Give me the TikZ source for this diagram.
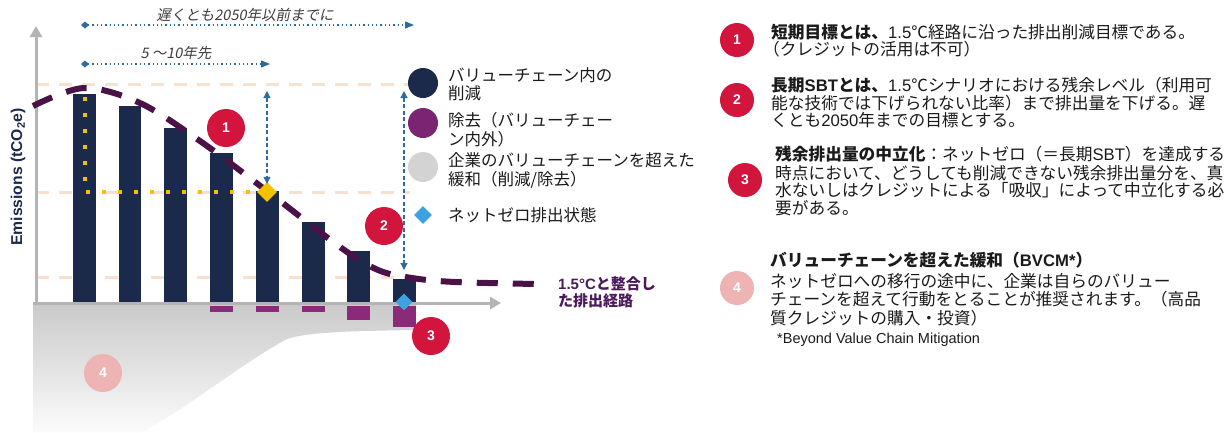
\documentclass[tikz,border=0pt]{standalone}
\usepackage{fontspec}
\setmainfont{Liberation Sans}
\newfontfamily\jp{Noto Sans CJK JP}
\newfontfamily\jpit[FakeSlant=0.2]{Noto Sans CJK JP}
\newfontfamily\latf{Liberation Sans}
\usetikzlibrary{arrows.meta,shapes.geometric}
\definecolor{navy}{HTML}{1B2A4B}
\definecolor{rempurple}{HTML}{8A2A78}
\definecolor{legpurple}{HTML}{7B2471}
\definecolor{pathpurple}{HTML}{4B1248}
\definecolor{badgered}{HTML}{D2153C}
\definecolor{badgepink}{HTML}{EEB3B3}
\definecolor{peach}{HTML}{F7E0D0}
\definecolor{arrowblue}{HTML}{2E6A9E}
\definecolor{gold}{HTML}{F5C000}
\definecolor{nzblue}{HTML}{3FA2E0}
\definecolor{axisgray}{HTML}{B4B4B4}
\definecolor{legray}{HTML}{D3D3D3}
\definecolor{txt}{HTML}{1A1A1A}
\definecolor{labelpurple}{HTML}{4B1A5A}
\begin{document}
\begin{tikzpicture}[x=1pt,y=-1pt,
  badge/.style={circle, fill=badgered, text=white, font=\bfseries\fontsize{14}{14}\selectfont, minimum size=#1, inner sep=0pt},
  badge/.default=34pt,
  pinkbadge/.style={badge=#1, fill=badgepink},
  pinkbadge/.default=34pt,
  jpline/.style={anchor=base west, inner sep=0pt, text=txt, font=\jp\fontsize{16.7}{18}\selectfont},
  legline/.style={anchor=base west, inner sep=0pt, text=txt, font=\jp\fontsize{16.5}{19}\selectfont},
  legdot/.style={circle, minimum size=30pt, inner sep=0pt, fill=#1},
  peachline/.style={peach, line width=3pt, dash pattern=on 13pt off 10pt},
  bluev/.style={arrowblue, line width=1.2pt, dash pattern=on 4pt off 2.5pt, {Triangle[length=7pt,width=7pt]}-{Triangle[length=7pt,width=7pt]}},
  blueh/.style={arrowblue, line width=1.3pt, dash pattern=on 1.3pt off 3pt, {Diamond[length=8pt,width=7pt]}-{Triangle[length=9pt,width=7pt]}},
  axisline/.style={axisgray, line width=3pt, -{Triangle[length=11pt,width=12pt]}},
  goldmark/.style={diamond, fill=gold, minimum size=20pt, inner sep=0pt},
  nzmark/.style={diamond, fill=nzblue, minimum size=17pt, inner sep=0pt},
]
\useasboundingbox (0,0) rectangle (1228,432);

% grey BVCM area
\shade[top color=gray!42, bottom color=gray!3]
  (33,303) -- (416,303) -- (416,330)
  .. controls (340,331) and (300,333) .. (285,340)
  .. controls (235,368) and (185,410) .. (142,432)
  -- (33,432) -- cycle;

% peach reference lines
\draw[peachline] (36,84) -- (410,84);
\draw[peachline] (36,192) -- (410,192);
\draw[peachline] (36,277) -- (410,277);

% bars
\foreach \l/\t in {73/94,118.5/106,164/128,210/153,256/191,302/222,347/251,393/279}
  \fill[navy] (\l,\t) rectangle ({\l+22.5},301.5);
\foreach \l/\b in {210/312,256/312,302/312,347/320,393/327}
  \fill[rempurple] (\l,305.5) rectangle ({\l+22.5},\b);

% axes
\coordinate (xstart) at (33,303);
\coordinate (xend) at (501,303);
\coordinate (ystart) at (36,304);
\coordinate (yend) at (36,26);
\draw[axisline] (ystart) -- (yend);
\draw[axisline] (xstart) -- (xend);

\node[rotate=90, text=navy, font=\bfseries\fontsize{15.7}{15.7}\selectfont] (ylabel) at (18,177) {Emissions (tCO\textsubscript{2}e)};

% yellow dotted guide
\coordinate (y1) at (85,97);
\coordinate (y2) at (85,192);
\coordinate (y3) at (257,192);
\draw[gold, line width=4pt, dash pattern=on 4pt off 12pt] (y1) -- (y2) -- (y3);

% 1.5C pathway
\draw[pathpurple, line width=6pt, dash pattern=on 21pt off 15pt]
  plot[smooth, tension=0.55] coordinates {(33,106) (84,88) (140,103) (200,141) (267,191) (340,247) (378,270) (412,278) (455,282) (537,284)};
\node[anchor=base west, inner sep=0pt, text=labelpurple, font=\jp\bfseries\fontsize{15}{15}\selectfont] (pl1) at (558,289) {{\latf 1.5°C}と整合し};
\node[anchor=base west, inner sep=0pt, text=labelpurple, font=\jp\bfseries\fontsize{15}{15}\selectfont] (pl2) at (558,306) {た排出経路};

% markers
\node[goldmark] (goal1) at (267,192) {};
\node[nzmark] (nz) at (404,302) {};

% vertical arrows
\coordinate (v1top) at (267,91);
\coordinate (v2top) at (404,91);
\coordinate (v2bot) at (404,270);
\draw[bluev] (v1top) -- ([yshift=-2pt]goal1.north);
\draw[bluev] (v2top) -- (v2bot);

% horizontal timeline arrows
\coordinate (h1s) at (81,25);
\coordinate (h1e) at (414,25);
\coordinate (h2s) at (81,64);
\coordinate (h2e) at (270,64);
\draw[blueh] (h1s) -- (h1e);
\draw[blueh] (h2s) -- (h2e);
\node[text=txt!85, font=\jpit\fontsize{14.5}{14.5}\selectfont, inner sep=0pt] (t1) at (245,15) {遅くとも2050年以前までに};
\node[text=txt!85, font=\jpit\fontsize{14.5}{14.5}\selectfont, inner sep=0pt] (t2) at (176,53) {5 〜10年先};

% chart badges
\node[badge=38pt] (b1) at (226,128) {1};
\node[badge=38pt] (b2) at (384,226) {2};
\node[badge=38pt] (b3) at (431,336) {3};
\node[pinkbadge=38pt] (b4) at (103,373) {4};

% legend
\node[legdot=navy] (l1) at (423,83) {};
\node[legdot=legpurple] (l2) at (423,123) {};
\node[legdot=legray] (l3) at (423,167) {};
\node[diamond, fill=nzblue, minimum size=18pt, inner sep=0pt] (l4) at (423,215) {};
\node[legline] (lt1) at (448,81) {バリューチェーン内の};
\node[legline] (lt1b) at (448,99) {削減};
\node[legline] (lt2) at (448,126) {除去（バリューチェー};
\node[legline] (lt2b) at (448,145) {ン内外）};
\node[legline] (lt3) at (448,166) {企業のバリューチェーンを超えた};
\node[legline] (lt3b) at (448,185) {緩和（削減/除去）};
\node[legline] (lt4) at (448,221) {ネットゼロ排出状態};

% right explanations
\node[badge] (r1) at (737,40) {1};
\node[badge] (r2) at (737,100) {2};
\node[badge] (r3) at (745,180) {3};
\node[pinkbadge] (r4) at (737,288) {4};

\node[jpline] (p1a) at (771,38) {{\bfseries 短期目標とは、}{\latf 1.5}℃経路に沿った排出削減目標である。};
\node[jpline] (p1b) at (763,55) {（クレジットの活用は不可）};

\node[jpline] (p2a) at (771,91) {{\bfseries 長期{\latf SBT}とは、}{\latf 1.5}℃シナリオにおける残余レベル（利用可};
\node[jpline] (p2b) at (771,109) {能な技術では下げられない比率）まで排出量を下げる。遅};
\node[jpline] (p2c) at (771,126) {くとも{\latf 2050}年までの目標とする。};

\node[jpline] (p3a) at (775,160) {{\bfseries 残余排出量の中立化}：ネットゼロ（＝長期{\latf SBT}）を達成する};
\node[jpline] (p3b) at (775,179) {時点において、どうしても削減できない残余排出量分を、真};
\node[jpline] (p3c) at (775,196) {水ないしはクレジットによる「吸収」によって中立化する必};
\node[jpline] (p3d) at (775,214) {要がある。};

\node[jpline, font=\jp\bfseries\fontsize{16.7}{18}\selectfont] (p4a) at (770,266) {バリューチェーンを超えた緩和（{\latf BVCM*}）};
\node[jpline] (p4b) at (770,287) {ネットゼロへの移行の途中に、企業は自らのバリュー};
\node[jpline] (p4c) at (770,305) {チェーンを超えて行動をとることが推奨されます。（高品};
\node[jpline] (p4d) at (770,324) {質クレジットの購入・投資）};
\node[anchor=base west, inner sep=0pt, text=txt, font=\fontsize{14.5}{14.5}\selectfont] (fn) at (777,343) {*Beyond Value Chain Mitigation};
\end{tikzpicture}
\end{document}
